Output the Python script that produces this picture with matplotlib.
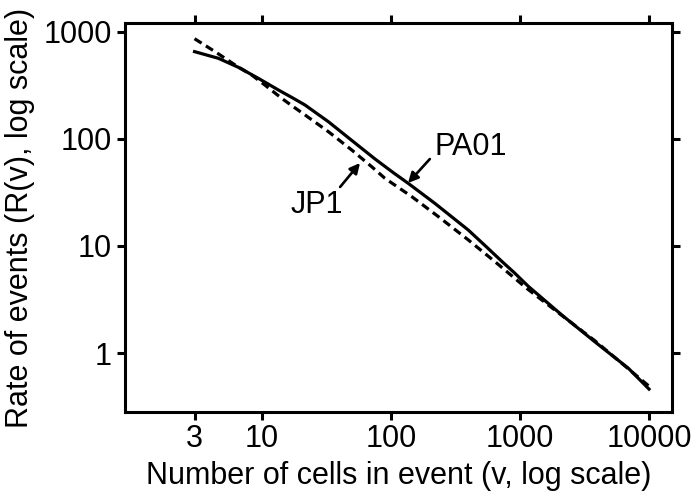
import matplotlib
matplotlib.use("Agg")
import matplotlib.pyplot as plt
from matplotlib.ticker import FixedLocator, FixedFormatter, NullLocator

plt.rcParams['font.family'] = ['Liberation Sans', 'DejaVu Sans']

# PA01 (solid)
pa01_v = [3, 4.58, 6.55, 9.36, 13.4, 17.5, 21.5, 32.7, 49.6, 75.2, 104, 136,
          219, 397, 560, 721, 900, 1159, 2104, 3810, 6918, 10000]
pa01_r = [655, 568, 468, 369, 287, 240, 208, 145, 97, 65, 48.5, 38.5,
          25.0, 14.1, 9.6, 7.2, 5.65, 4.2, 2.27, 1.27, 0.72, 0.46]
# JP1 (dashed)
jp1_v = [3, 4.33, 6.18, 8.32, 10.5, 14.2, 17.5, 21.5, 32.7, 49.6, 70.8, 89.7,
         145, 233, 397, 640, 1127, 2104, 3810, 5140, 8260, 10000]
jp1_r = [865, 654, 492, 396, 320, 240, 200, 168, 117, 78.9, 55.1, 42.9,
         28.9, 18.8, 11.4, 7.13, 4.02, 2.25, 1.30, 0.96, 0.594, 0.49]

x_ticks = [3, 10, 100, 1000, 10000]
x_ticklabels = ["3", "10", "100", "1000", "10000"]
y_ticks = [1, 10, 100, 1000]
y_ticklabels = ["1", "10", "100", "1000"]

fig = plt.figure(figsize=(7.0, 4.98), dpi=100)
ax = fig.add_axes([0.1786, 0.1727, 0.7814, 0.7811])

ax.plot(pa01_v, pa01_r, color='black', lw=2.3, solid_joinstyle='round')
ax.plot(jp1_v, jp1_r, color='black', lw=2.3, linestyle=(0, (2.6, 1.6)))

ax.set_xscale('log')
ax.set_yscale('log')
ax.set_xlim(0.867, 15070)
ax.set_ylim(0.281, 1213)

ax.xaxis.set_major_locator(FixedLocator(x_ticks))
ax.xaxis.set_major_formatter(FixedFormatter(x_ticklabels))
ax.yaxis.set_major_locator(FixedLocator(y_ticks))
ax.yaxis.set_major_formatter(FixedFormatter(y_ticklabels))
ax.xaxis.set_minor_locator(NullLocator())
ax.yaxis.set_minor_locator(NullLocator())

ax.tick_params(axis='both', which='major', direction='out', length=5.5, width=2.2,
               labelsize=22, top=True, right=True, labeltop=False, labelright=False)
ax.tick_params(axis='x', pad=3)
ax.tick_params(axis='y', pad=4)
for sp in ax.spines.values():
    sp.set_linewidth(2.2)

ax.set_xlabel('Number of cells in event (v, log scale)', fontsize=22, labelpad=5)
ax.set_ylabel('Rate of events (R(v), log scale)', fontsize=22, labelpad=6)

arrow_kw = dict(arrowstyle='-|>', color='black', lw=1.9, mutation_scale=15,
                shrinkA=0, shrinkB=0)
ax.annotate('', xy=(135.5, 38.8), xytext=(200, 65), arrowprops=arrow_kw)
ax.annotate('', xy=(57.5, 59.7), xytext=(40.3, 35.6), arrowprops=arrow_kw)
ax.text(417, 70.8, 'PA01', fontsize=22, ha='center', va='baseline')
ax.text(26.7, 20.3, 'JP1', fontsize=22, ha='center', va='baseline')

fig.savefig('out.png', dpi=100)
